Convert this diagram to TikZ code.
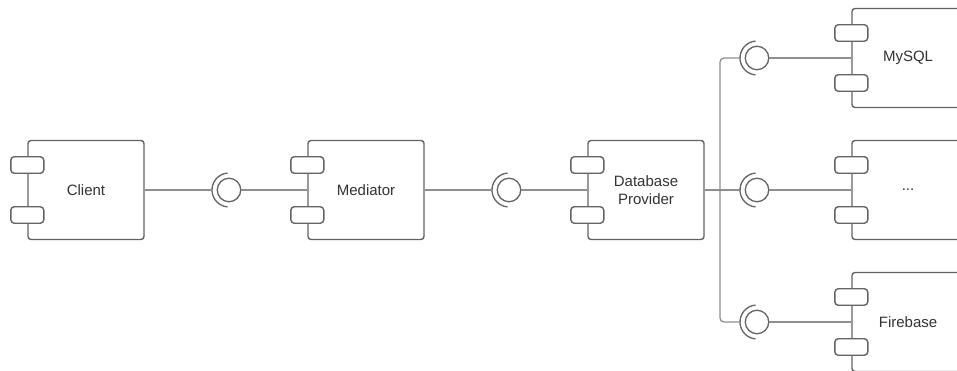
\documentclass[tikz,border=0pt]{standalone}
\usepackage{fontspec}
\setmainfont{Liberation Sans}
\definecolor{edgegray}{HTML}{636363}
\definecolor{wiregray}{HTML}{8E8E8E}
\definecolor{inkgray}{HTML}{333333}
\tikzset{
  comp/.style={draw=edgegray, line width=1.4pt, rounded corners=3pt, fill=white,
    minimum width=116pt, minimum height=99pt, inner sep=0pt, align=center,
    text=inkgray, font=\fontsize{15}{18}\selectfont},
  compcut/.style={comp, minimum width=112pt},
  tabbox/.style={draw=edgegray, line width=1.4pt, rounded corners=3.5pt, fill=white,
    minimum width=33pt, minimum height=16.5pt, inner sep=0pt},
  ball/.style={circle, draw=edgegray, line width=1.3pt, fill=white,
    minimum size=23.5pt, inner sep=0pt},
  wire/.style={draw=wiregray, line width=1.3pt},
  cup/.style={draw=edgegray, line width=1.3pt}
}
\begin{document}
\begin{tikzpicture}[x=1pt,y=1pt]
\useasboundingbox (0,0) rectangle (957,371);
\clip (0,0) rectangle (957,371);

% component boxes
\node[comp] (client) at (86,181) {Client};
\node[comp] (med) at (366,181) {Mediator};
\node[comp] (db) at (646,181) {Database\\Provider};
\node[compcut] (mysql) at (908,313) {MySQL};
\node[compcut] (more) at (908,181) {...};
\node[compcut] (fire) at (908,49) {Firebase};

% interface balls
\node[ball] (s1) at (229,181) {};
\node[ball] (s2) at (509,181) {};
\node[ball] (sq) at (757,313) {};
\node[ball] (sm) at (757,181) {};
\node[ball] (sf) at (757,49) {};

% socket arcs around the balls
\foreach \s in {s1,s2,sq,sm,sf}{
  \coordinate (\s a) at ([xshift=-17pt]\s.center);
  \draw[cup] ([shift={(95:17pt)}]\s.center) arc[start angle=95, end angle=265, radius=17pt];
}

% junction points of the branching wire
\coordinate (jt) at (720,313);
\coordinate (jb) at (720,49);
\coordinate (jm) at (720,181);

% wires
\draw[wire] (client.east) -- (s1a);
\draw[wire] (s1.east) -- (s1.east -| med.west);
\draw[wire] (med.east) -- (s2a);
\draw[wire] (s2.east) -- (s2.east -| db.west);
\draw[wire] (db.east) -- (jm) -- (sma);
\draw[wire, rounded corners=4pt] (sqa) -- (jt) -- (jb) -- (sfa);
\draw[wire] (sq.east) -- (sq.east -| mysql.west);
\draw[wire] (sm.east) -- (sm.east -| more.west);
\draw[wire] (sf.east) -- (sf.east -| fire.west);

% tabs on the left edge of each component
\foreach \c in {client,med,db,mysql,more,fire}{
  \node[tabbox] (\c t1) at ([yshift=25pt]\c.west) {};
  \node[tabbox] (\c t2) at ([yshift=-25pt]\c.west) {};
}
\end{tikzpicture}
\end{document}
